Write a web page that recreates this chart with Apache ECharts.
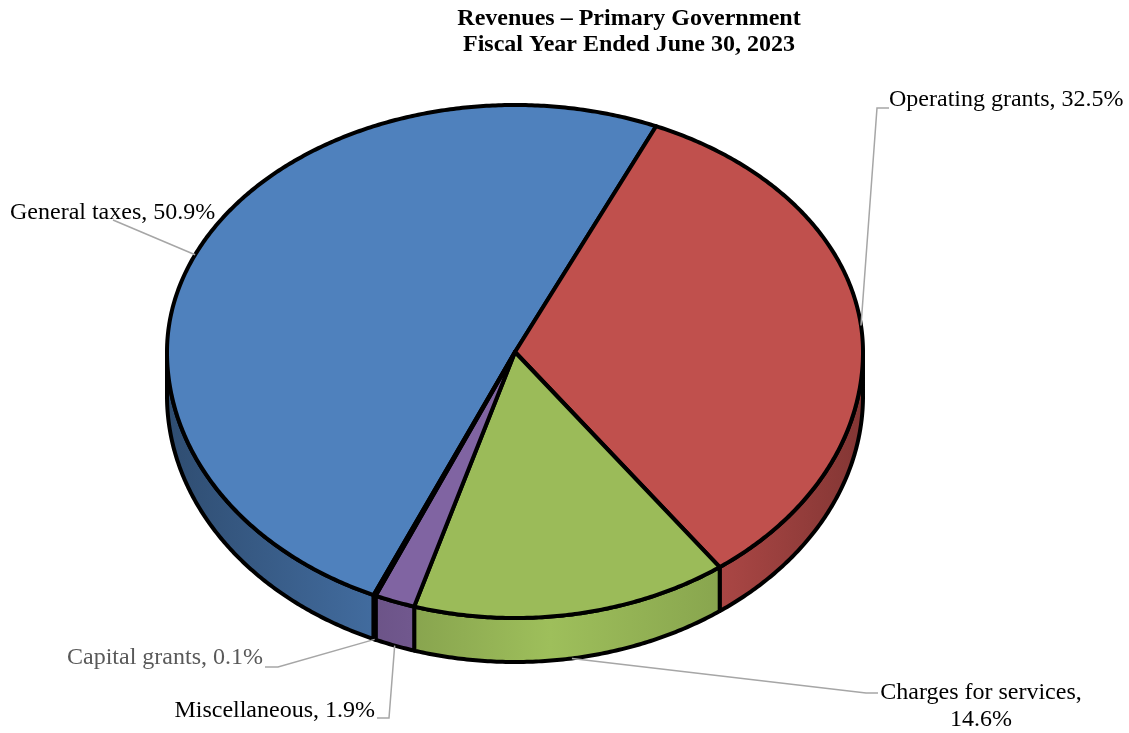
<!DOCTYPE html>
<html>
<head>
<meta charset="utf-8">
<script src="https://cdn.jsdelivr.net/npm/echarts@6/dist/echarts.min.js"></script>
<style>
  html, body { margin: 0; padding: 0; background: #fff; }
  #chart { width: 1129px; height: 733px; }
</style>
</head>
<body>
<div id="chart"></div>
<script>
// data (percent of revenues)
var categories = ['General taxes', 'Operating grants', 'Charges for services', 'Miscellaneous', 'Capital grants'];
var values = [50.9, 32.5, 14.6, 1.9, 0.1];
var colors = ['#4f81bd', '#c0504d', '#9bbb59', '#8064a2', '#4bacc6'];

// 3d pie geometry
var CX = 515, CY = 352, RX = 348, RYT = 247, RYB = 266, DEPTH = 44;
var START = 112.3;
var PERSP = 1.8; // degrees, front slices look a bit wider

// label layout: text anchor + leader path (after the slice attach point)
var labelLayout = [
    { x: 10, y: 213, align: 'left', path: [[113, 220]] },
    { x: 889, y: 100, align: 'left', path: [[877, 108], [889, 108]] },
    { x: 981, y: 706, align: 'center', wrap: true, path: [[866, 693], [878, 693]] },
    { x: 375, y: 711, align: 'right', path: [[389, 718], [377, 718]] },
    { x: 263, y: 658, align: 'right', color: '#595959', path: [[278, 667], [265, 667]] }
];

var total = values.reduce(function (a, b) { return a + b; }, 0);
var angles = [];
var acc = START;
values.forEach(function (v) {
    var a0 = acc;
    acc += v / total * 360;
    angles.push([a0, acc]);
});

function pt(a, dz) {
    var r = a * Math.PI / 180;
    r += PERSP * Math.PI / 180 * Math.sin(r);
    var s = Math.sin(r);
    return [CX + RX * Math.cos(r), CY + (s < 0 ? RYT : RYB) * s + (dz || 0)];
}

function arc(a0, a1, dz) {
    var pts = [];
    var n = Math.max(2, Math.ceil((a1 - a0) / 0.5));
    for (var i = 0; i <= n; i++) {
        pts.push(pt(a0 + (a1 - a0) * i / n, dz));
    }
    return pts;
}

function shade(hex, f) {
    var n = parseInt(hex.slice(1), 16);
    var r = Math.min(255, Math.round(((n >> 16) & 255) * f));
    var g = Math.min(255, Math.round(((n >> 8) & 255) * f));
    var b = Math.min(255, Math.round((n & 255) * f));
    return 'rgb(' + r + ',' + g + ',' + b + ')';
}

function sideGradient(c) {
    return new echarts.graphic.LinearGradient(CX - RX, 0, CX + RX, 0, [
        { offset: 0, color: shade(c, 0.6) },
        { offset: 0.3, color: shade(c, 0.84) },
        { offset: 0.55, color: shade(c, 1.02) },
        { offset: 0.8, color: shade(c, 0.88) },
        { offset: 1, color: shade(c, 0.68) }
    ], true);
}

function renderSide(params, api) {
    var i = params.dataIndex;
    var a0 = angles[i][0], a1 = angles[i][1];
    var children = [];
    [[0, 180], [360, 540]].forEach(function (h) {
        var s = Math.max(a0, h[0]), e = Math.min(a1, h[1]);
        if (e - s > 0.05) {
            var top = arc(s, e, 0);
            var bot = arc(s, e, DEPTH).reverse();
            children.push({
                type: 'polygon',
                shape: { points: top.concat(bot) },
                style: { fill: sideGradient(colors[i]), stroke: '#000', lineWidth: 4, lineJoin: 'round' }
            });
        }
    });
    return { type: 'group', children: children };
}

function renderTop(params, api) {
    var i = params.dataIndex;
    var pts = [[CX, CY]].concat(arc(angles[i][0], angles[i][1], 0));
    return {
        type: 'polygon',
        shape: { points: pts },
        style: { fill: colors[i], stroke: '#000', lineWidth: 4, lineJoin: 'round' }
    };
}

function renderLabel(params, api) {
    var i = params.dataIndex;
    var L = labelLayout[i];
    var mid = (angles[i][0] + angles[i][1]) / 2;
    var s = Math.sin(mid * Math.PI / 180);
    var attach = pt(mid, s > 0 ? DEPTH : 0);
    var txt = categories[i] + ',' + (L.wrap ? '\n' : ' ') + api.value(0).toFixed(1) + '%';
    return {
        type: 'group',
        children: [{
            type: 'polyline',
            shape: { points: [attach].concat(L.path) },
            style: { stroke: '#a6a6a6', lineWidth: 1.5, fill: null }
        }, {
            type: 'text',
            style: {
                text: txt, x: L.x, y: L.y,
                textAlign: L.align, textVerticalAlign: 'middle',
                font: '24px "Liberation Serif", "Times New Roman", serif',
                lineHeight: 27,
                fill: L.color || '#000'
            }
        }]
    };
}

var myChart = echarts.init(document.getElementById('chart'));
var option = {
    backgroundColor: '#fff',
    animation: false,
    title: {
        text: 'Revenues – Primary Government\nFiscal Year Ended June 30, 2023',
        left: 624,
        top: 1,
        textAlign: 'center',
        textStyle: {
            fontFamily: 'Liberation Serif',
            fontWeight: 'bold',
            fontSize: 24,
            lineHeight: 26,
            color: '#000'
        }
    },
    series: [
        { type: 'custom', name: 'side', coordinateSystem: 'none', renderItem: renderSide, data: values, z: 1 },
        { type: 'custom', name: 'top', coordinateSystem: 'none', renderItem: renderTop, data: values, z: 2 },
        { type: 'custom', name: 'labels', coordinateSystem: 'none', renderItem: renderLabel, data: values, z: 3 }
    ]
};
myChart.setOption(option);
</script>
</body>
</html>
